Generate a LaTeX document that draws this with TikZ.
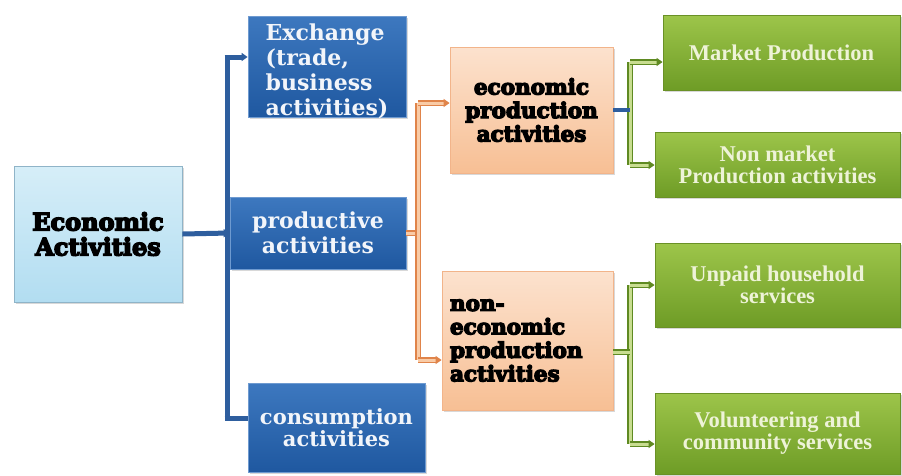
\documentclass[tikz,border=0pt]{standalone}
\usepackage{fontspec}
\usetikzlibrary{arrows.meta,shadows,calc}
\newfontfamily\heavy[BoldFeatures={FakeBold=6}]{DejaVu Serif}
\newfontfamily\blu{DejaVu Serif}
\newfontfamily\grn{Liberation Serif}
\definecolor{bluetop}{HTML}{3D78BF}
\definecolor{bluebot}{HTML}{1F58A0}
\definecolor{blueedge}{HTML}{6E9AD0}
\definecolor{bluetext}{HTML}{F2F5FA}
\definecolor{ltop}{HTML}{D6EEF8}
\definecolor{lbot}{HTML}{B2DDF1}
\definecolor{ledge}{HTML}{8FB4C8}
\definecolor{ptop}{HTML}{FCE2CE}
\definecolor{pbot}{HTML}{F7BF94}
\definecolor{pedge}{HTML}{F2B48A}
\definecolor{gtop}{HTML}{9DC54A}
\definecolor{gbot}{HTML}{6E9C26}
\definecolor{gedge}{HTML}{6A9126}
\definecolor{gtext}{HTML}{EEF3D8}
\definecolor{bline}{HTML}{2E5E9E}
\definecolor{oout}{HTML}{E0844A}
\definecolor{oin}{HTML}{F9CBA6}
\definecolor{gout}{HTML}{5F8A22}
\definecolor{gin}{HTML}{C8DD90}
\tikzset{
  box/.style={rectangle, inner sep=0pt, align=center,
    drop shadow={opacity=0.3, shadow xshift=2pt, shadow yshift=-2pt}},
  bluefont/.style={text=bluetext, font=\blu\bfseries\fontsize{22}{25}\selectfont},
  bluebox/.style={box, top color=bluetop, bottom color=bluebot, draw=blueedge, line width=0.8pt, bluefont},
  lbox/.style={box, top color=ltop, bottom color=lbot, draw=ledge, line width=0.8pt,
    text=black, font=\heavy\bfseries\fontsize{24}{25}\selectfont},
  pbox/.style={box, top color=ptop, bottom color=pbot, draw=pedge, line width=0.8pt,
    text=black, font=\heavy\bfseries\fontsize{21.5}{23.5}\selectfont},
  gbox/.style={box, top color=gtop, bottom color=gbot, draw=gedge, line width=0.8pt,
    text=gtext, font=\grn\bfseries\fontsize{22.5}{22}\selectfont},
  bconn/.style={draw=bline, line width=5pt},
  oconn/.style={draw=oout, double=oin, double distance=3pt, line width=1.3pt},
  gconn/.style={draw=gout, double=gin, double distance=3pt, line width=1.3pt},
  arr/.style={-{Triangle[length=6pt,width=8pt]}}
}
\begin{document}
\begin{tikzpicture}[x=1pt,y=-1pt]
\useasboundingbox (0,0) rectangle (902,475);
\fill[white] (0,0) rectangle (902,475);

% nodes
\node[lbox, minimum width=168pt, minimum height=136pt] (ea) at (98,234) {Economic\\Activities};
\node[bluebox, minimum width=158pt, minimum height=101pt] (exch) at (327,66.5) {};
\node[bluefont, align=left, inner sep=0pt] (exchtxt) at (327,71) {Exchange\\(trade,\\business\\activities)};
\node[bluebox, minimum width=176pt, minimum height=72pt] (prod) at (318,233) {productive\\activities};
\node[bluebox, minimum width=177pt, minimum height=89pt, font=\blu\bfseries\fontsize{21}{22}\selectfont] (cons) at (336.5,427.5) {consumption\\activities};
\node[pbox, minimum width=163pt, minimum height=126pt] (ep) at (531.5,110) {economic\\production\\activities};
\node[pbox, minimum width=171pt, minimum height=139pt, align=left, text width=155pt, inner xsep=8pt] (nep) at (527.5,340.5) {non-\\economic\\production\\activities};
\node[gbox, minimum width=237pt, minimum height=75pt] (mp) at (781.5,52.5) {Market Production};
\node[gbox, minimum width=245pt, minimum height=65pt] (nmp) at (777.5,164.5) {Non market\\Production activities};
\node[gbox, minimum width=245pt, minimum height=84pt] (uh) at (777.5,285) {Unpaid household\\services};
\node[gbox, minimum width=245pt, minimum height=81pt] (vc) at (777.5,433.5) {Volunteering and\\community services};

% blue connectors
\coordinate (bT) at (227,57);
\coordinate (bB) at (227,418);
\draw[bconn] (bT) -- (bB);
\draw[bconn, arr] ([xshift=-2.5pt]bT) -- (exch.west |- bT);
\draw[bconn, arr] (ea.east) -- (prod.west);
\draw[bconn] ([xshift=-2.5pt]bB) -- (cons.west |- bB);

% orange connectors
\coordinate (oT) at (418,103);
\coordinate (oB) at (418,360);
\draw[oconn] (prod.east) -- (prod.east -| oT);
\draw[oconn] (oT) -- (oB);
\draw[oconn, arr] (oT) -- (ep.west |- oT);
\draw[oconn, arr] (oB) -- (nep.west |- oB);

% green connectors (economic)
\coordinate (g1T) at (630,62);
\coordinate (g1B) at (630,165);
\draw[gconn] (g1T) -- (g1B);
\draw[gconn, arr] (g1T) -- (mp.west |- g1T);
\draw[gconn, arr] (g1B) -- (nmp.west |- g1B);
\draw[draw=bline, line width=4.5pt] (ep.east) -- (ep.east -| g1T);

% green connectors (non-economic)
\coordinate (g2T) at (630,285);
\coordinate (g2B) at (630,444);
\draw[gconn] (g2T) -- (g2B);
\draw[gconn] (nep.east |- 0,352) -- (g2T |- 0,352);
\draw[gconn, arr] (g2T) -- (uh.west |- g2T);
\draw[gconn, arr] (g2B) -- (vc.west |- g2B);
\end{tikzpicture}
\end{document}
